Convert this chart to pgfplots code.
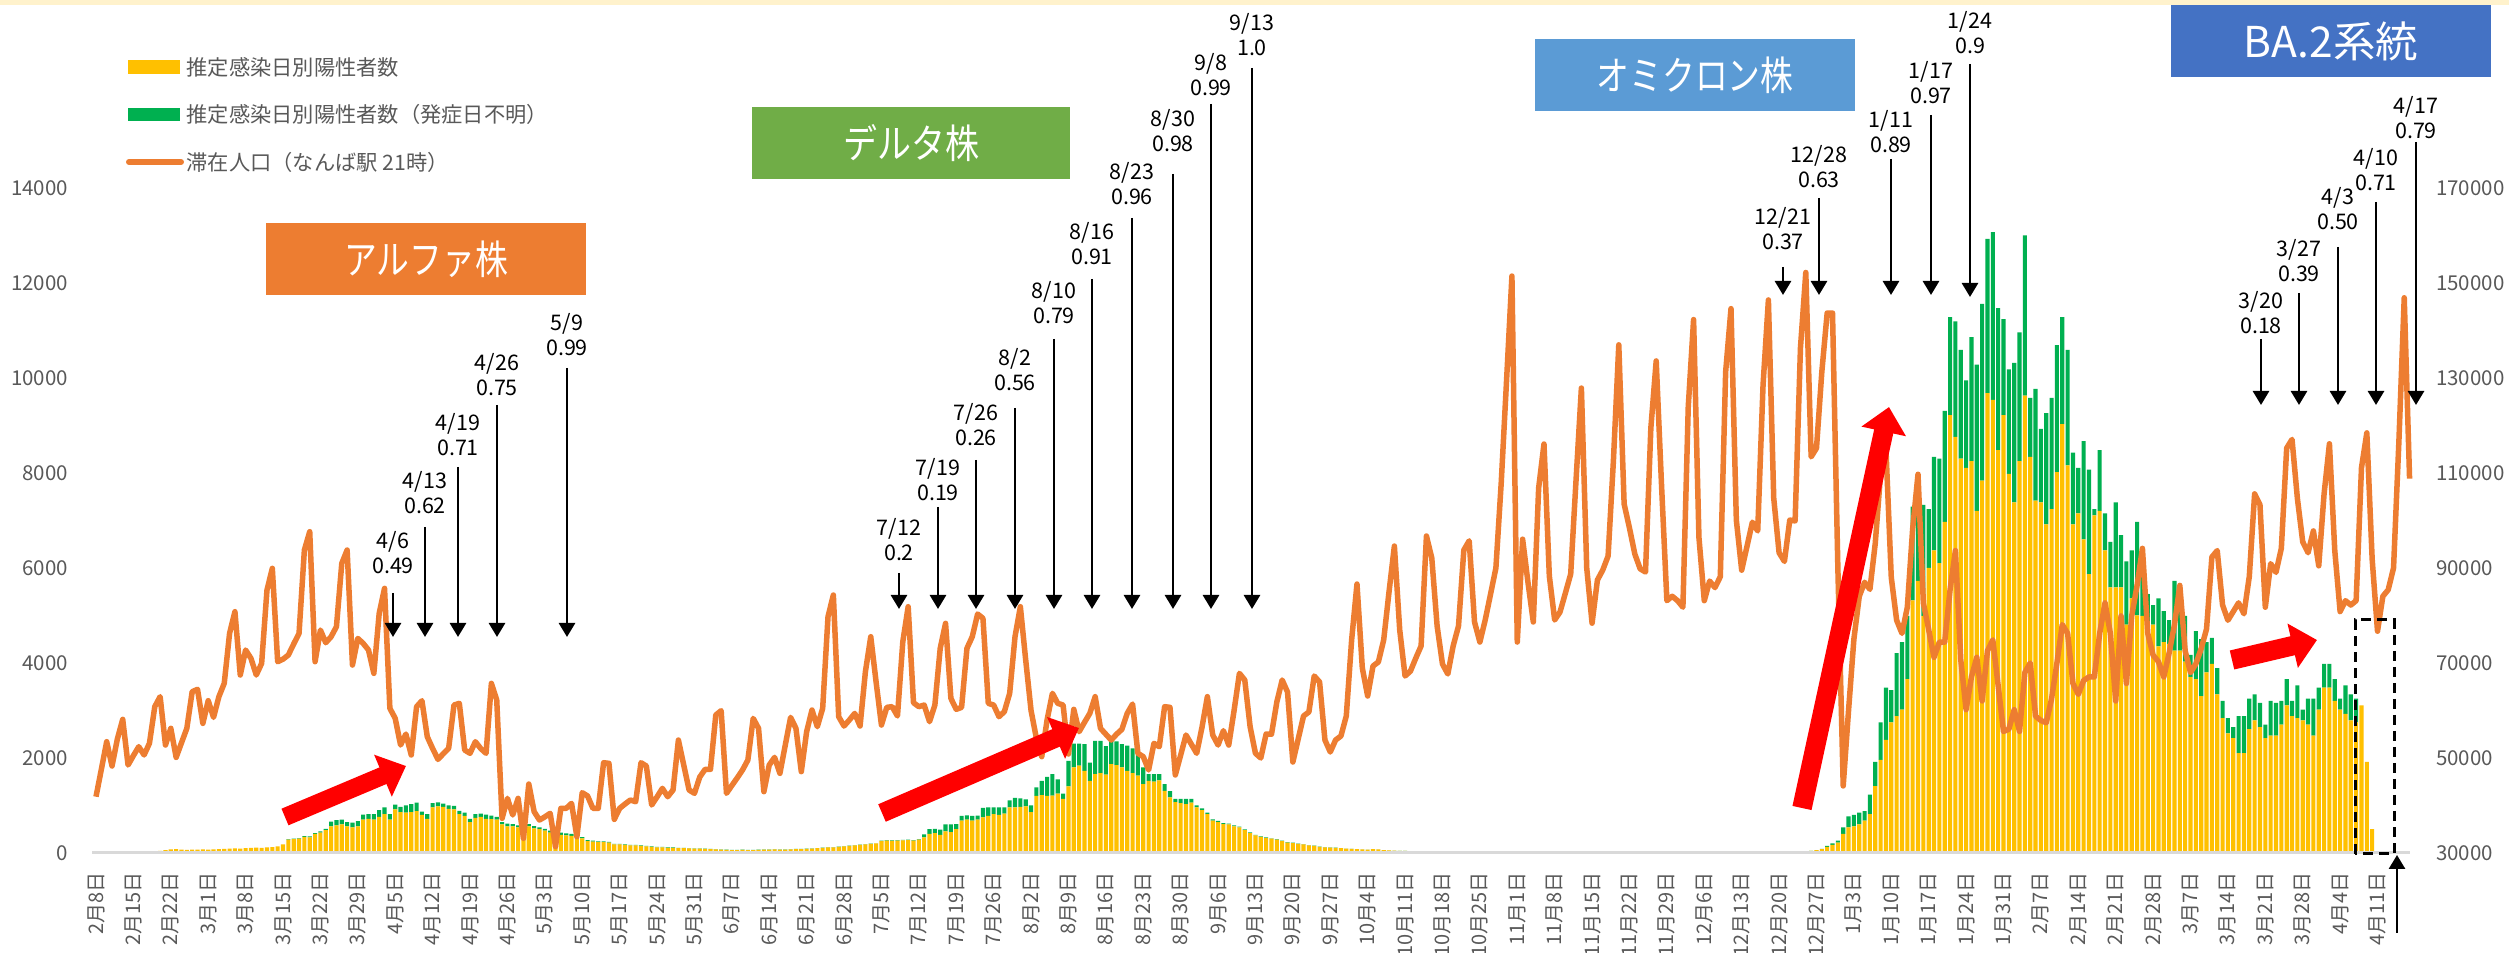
\documentclass[border=0pt]{standalone}
\usepackage{fontspec}
\setmainfont{Noto Sans CJK JP}
\usepackage{graphicx}
\usepackage{pgfplots}
\pgfplotsset{compat=1.18}
\usepackage{pgfplotstable}
\usetikzlibrary{arrows.meta}
\definecolor{barY}{HTML}{FFC000}
\definecolor{barG}{HTML}{00B050}
\definecolor{lineO}{HTML}{ED7D31}
\definecolor{txtG}{HTML}{595959}
\definecolor{boxO}{HTML}{ED7D31}
\definecolor{boxG}{HTML}{70AD47}
\definecolor{boxB}{HTML}{5B9BD5}
\definecolor{boxD}{HTML}{4472C4}
\definecolor{topY}{HTML}{FFF2CC}
\definecolor{baseG}{HTML}{D9D9D9}
\newcommand\annfont{\fontsize{8.6pt}{10pt}\selectfont}
\newcommand\legfont{\fontsize{8.5pt}{10pt}\selectfont}
\newcommand\boxfont{\fontsize{16pt}{18pt}\selectfont}
\newcommand\annot[6]{%
  \draw[line width=1.1pt,-{Triangle[length=5.6pt,width=6.4pt]}] (#1,953-#3) -- (#1,953-#4);
  \node[align=center,font=\annfont,inner sep=0pt] at (#1,953-#2) {#5\\#6};}

\pgfplotstableread[row sep=\\]{d y g\\
0 8 0\\1 8 0\\2 10 0\\3 10 0\\4 12 0\\5 12 0\\6 14 0\\7 15 0\\8 18 0\\9 20 0\\
10 25 0\\11 30 0\\12 45 0\\13 60 0\\14 75 0\\15 80 0\\16 70 0\\17 65 0\\18 70 0\\19 70 0\\
20 75 0\\21 70 0\\22 75 0\\23 80 0\\24 85 0\\25 90 0\\26 95 0\\27 90 0\\28 100 0\\29 110 0\\
30 115 0\\31 110 0\\32 120 0\\33 125 0\\34 140 0\\35 180 0\\36 280 10\\37 290 10\\38 300 15\\39 340 15\\
40 330 20\\41 400 20\\42 430 25\\43 480 30\\44 560 100\\45 580 110\\46 600 100\\47 560 90\\48 540 100\\49 560 110\\
50 700 110\\51 720 100\\52 700 120\\53 760 140\\54 820 140\\55 700 120\\56 920 100\\57 860 110\\58 850 150\\59 860 170\\
60 880 180\\61 800 70\\62 720 100\\63 960 90\\64 980 85\\65 970 70\\66 930 70\\67 920 70\\68 820 65\\69 780 70\\
70 650 70\\71 740 80\\72 760 70\\73 720 90\\74 715 70\\75 700 60\\76 600 50\\77 560 60\\78 560 50\\79 540 40\\
80 520 40\\81 560 50\\82 520 45\\83 500 40\\84 470 40\\85 430 40\\86 360 50\\87 380 50\\88 370 45\\89 360 40\\
90 300 30\\91 310 25\\92 250 20\\93 240 20\\94 230 15\\95 230 15\\96 220 12\\97 180 12\\98 180 12\\99 170 10\\
100 160 10\\101 160 10\\102 150 10\\103 140 10\\104 130 8\\105 120 8\\106 120 8\\107 110 8\\108 110 8\\109 100 6\\
110 100 6\\111 95 6\\112 90 6\\113 90 6\\114 85 5\\115 80 5\\116 75 5\\117 70 5\\118 65 5\\119 60 5\\
120 60 5\\121 65 5\\122 60 5\\123 60 5\\124 65 5\\125 70 5\\126 70 5\\127 75 5\\128 70 5\\129 70 5\\
130 75 5\\131 80 5\\132 80 5\\133 85 5\\134 90 5\\135 100 5\\136 110 5\\137 120 5\\138 120 5\\139 130 5\\
140 140 5\\141 150 5\\142 160 5\\143 170 5\\144 180 5\\145 190 5\\146 200 5\\147 250 10\\148 260 10\\149 255 10\\
150 260 10\\151 265 10\\152 270 10\\153 260 10\\154 280 10\\155 330 60\\156 400 100\\157 420 90\\158 380 110\\159 455 150\\
160 440 160\\161 500 110\\162 680 100\\163 700 90\\164 680 100\\165 700 85\\166 750 200\\167 780 180\\168 820 140\\169 800 160\\
170 830 130\\171 960 150\\172 960 200\\173 970 180\\174 980 150\\175 860 140\\176 1200 180\\177 1220 300\\178 1200 400\\179 1210 450\\
180 1250 300\\181 1140 110\\182 1400 540\\183 1800 500\\184 1840 460\\185 1730 560\\186 1520 380\\187 1660 700\\188 1680 680\\189 1650 600\\
190 1870 530\\191 1850 500\\192 1800 490\\193 1730 530\\194 1680 520\\195 1630 490\\196 1450 350\\197 1520 140\\198 1500 160\\199 1530 130\\
200 1310 140\\201 1170 130\\202 1070 70\\203 1050 90\\204 1030 110\\205 1060 80\\206 960 40\\207 900 40\\208 820 30\\209 680 30\\
210 650 25\\211 610 20\\212 600 20\\213 560 20\\214 540 15\\215 480 15\\216 420 15\\217 370 10\\218 340 10\\219 320 10\\
220 300 10\\221 280 10\\222 250 8\\223 220 8\\224 210 8\\225 190 6\\226 180 6\\227 160 6\\228 150 5\\229 130 5\\
230 120 5\\231 115 4\\232 110 4\\233 100 4\\234 90 4\\235 85 3\\236 80 3\\237 75 3\\238 70 3\\239 80 3\\
240 75 3\\241 60 2\\242 55 2\\243 50 2\\244 45 2\\245 45 2\\246 40 2\\247 40 2\\248 35 2\\249 35 2\\
250 30 2\\251 30 1\\252 28 1\\253 26 1\\254 25 1\\255 25 1\\256 22 1\\257 22 1\\258 20 1\\259 20 1\\
260 20 1\\261 18 1\\262 18 1\\263 16 1\\264 16 1\\265 15 1\\266 15 1\\267 20 1\\268 18 1\\269 16 1\\
270 15 1\\271 15 0\\272 14 0\\273 14 0\\274 13 0\\275 12 0\\276 12 0\\277 12 0\\278 12 0\\279 12 0\\
280 12 0\\281 12 0\\282 12 0\\283 12 0\\284 12 0\\285 12 0\\286 12 0\\287 12 0\\288 12 0\\289 12 0\\
290 12 0\\291 12 0\\292 12 0\\293 12 0\\294 12 0\\295 12 0\\296 12 0\\297 14 0\\298 14 0\\299 14 0\\
300 14 0\\301 15 0\\302 15 0\\303 15 0\\304 16 0\\305 16 0\\306 16 0\\307 17 0\\308 17 0\\309 18 0\\
310 18 0\\311 19 0\\312 20 0\\313 20 0\\314 22 0\\315 25 0\\316 30 0\\317 35 0\\318 38 0\\319 40 0\\
320 42 0\\321 45 2\\322 60 3\\323 80 5\\324 130 20\\325 170 30\\326 220 40\\327 400 140\\328 540 230\\329 560 240\\
330 600 250\\331 680 200\\332 820 410\\333 1410 510\\334 1960 790\\335 2380 1100\\336 2750 680\\337 2880 1330\\338 3020 1420\\339 3660 1330\\
340 5320 1970\\341 5730 2110\\342 4990 2340\\343 6000 1240\\344 6370 1970\\345 6100 2200\\346 6970 2340\\347 9220 2060\\348 8760 2430\\349 8300 2290\\
350 8110 1840\\351 8250 2610\\352 7200 3080\\353 7840 3720\\354 9680 3250\\355 9540 3530\\356 8480 2990\\357 9220 2020\\358 7980 2200\\359 7380 2940\\
360 8250 2710\\361 9630 3370\\362 8340 1240\\363 7420 2350\\364 7380 1550\\365 6920 2340\\366 7240 2340\\367 8020 2670\\368 9030 2250\\369 8160 2430\\
370 6920 1510\\371 7150 960\\372 6600 2070\\373 5870 2200\\374 7110 130\\375 7200 1280\\376 6370 780\\377 5590 960\\378 5590 1790\\379 5590 1100\\
380 4810 1330\\381 5360 1010\\382 5000 1970\\383 4990 1010\\384 4810 640\\385 4810 410\\386 4350 1010\\387 4440 650\\388 4400 500\\389 4260 1470\\
390 4260 1380\\391 4030 960\\392 3710 460\\393 3660 1010\\394 3300 1200\\395 3800 640\\396 3980 550\\397 3340 550\\398 2840 360\\399 2520 320\\
400 2420 230\\401 2100 780\\402 2100 780\\403 2610 640\\404 2790 550\\405 2650 510\\406 2420 280\\407 2470 730\\408 2470 690\\409 2700 500\\
410 3110 550\\411 2880 320\\412 2840 690\\413 2790 230\\414 2700 550\\415 2470 780\\416 3020 460\\417 3480 500\\418 3480 500\\419 3200 460\\
420 3020 230\\421 2930 600\\422 2790 550\\423 2750 500\\424 3110 0\\425 1920 0\\426 500 0\\
}\bars

\begin{document}
\begin{tikzpicture}[x=0.4pt,y=0.4pt]
\useasboundingbox (0,0) rectangle (2509,953);
\fill[white] (0,0) rectangle (2509,953);
\fill[topY] (0,948) rectangle (2509,953);
\begin{axis}[at={(36pt,40pt)}, anchor=south west,
  width=932pt, height=341.2pt, scale only axis,
  xmin=-1.123, xmax=434.96, ymin=0, ymax=17957.9,
  axis x line*=bottom, axis y line*=left,
  axis line style={draw=none}, major tick length=0pt,
  ybar stacked, bar width=1.65pt,
  scaled y ticks=false, scaled x ticks=false,
  ytick={0,2000,4000,6000,8000,10000,12000,14000},
  yticklabels={0,2000,4000,6000,8000,10000,12000,14000},
  yticklabel style={font=\fontsize{8.2pt}{9pt}\selectfont, text=txtG},
  yticklabel shift=5.3pt,
  xtick={0,7,...,427},
  xticklabels={2月8日,2月15日,2月22日,3月1日,3月8日,3月15日,3月22日,3月29日,4月5日,4月12日,4月19日,4月26日,5月3日,5月10日,5月17日,5月24日,5月31日,6月7日,6月14日,6月21日,6月28日,7月5日,7月12日,7月19日,7月26日,8月2日,8月9日,8月16日,8月23日,8月30日,9月6日,9月13日,9月20日,9月27日,10月4日,10月11日,10月18日,10月25日,11月1日,11月8日,11月15日,11月22日,11月29日,12月6日,12月13日,12月20日,12月27日,1月3日,1月10日,1月17日,1月24日,1月31日,2月7日,2月14日,2月21日,2月28日,3月7日,3月14日,3月21日,3月28日,4月4日,4月11日},
  xticklabel style={rotate=90, anchor=east, font=\fontsize{8pt}{8.5pt}\selectfont, text=txtG},
  xticklabel shift=4.2pt,
]
\addplot[fill=barY, draw=none] table[x=d,y=y]{\bars};
\addplot[fill=barG, draw=none] table[x=d,y=g]{\bars};
\end{axis}
\draw[baseG, line width=1.2pt] (92,100) -- (2410,100);
\begin{axis}[at={(36pt,40pt)}, anchor=south west,
  width=932pt, height=341.2pt, scale only axis,
  xmin=-1.123, xmax=434.96, ymin=30000, ymax=209579,
  hide x axis, axis y line*=right,
  axis line style={draw=none}, major tick length=0pt,
  scaled y ticks=false, scaled x ticks=false,
  ytick={30000,50000,70000,90000,110000,130000,150000,170000},
  yticklabels={30000,50000,70000,90000,110000,130000,150000,170000},
  yticklabel style={font=\fontsize{8.2pt}{9pt}\selectfont, text=txtG},
  yticklabel shift=2.9pt,
]
\addplot[color=lineO, line width=2.2pt, line join=round, mark=none] coordinates {
(0,41850)(1,47600)(2,53430)(3,48310)(4,54000)(5,58130)(6,48520)(7,50500)(8,52380)(9,50630)
(10,53080)(11,60800)(12,62910)(13,52730)(14,56240)(15,50130)(16,53200)(17,56240)(18,63960)(19,64450)
(20,57290)(21,62060)(22,58550)(23,62910)(24,65710)(25,76240)(26,80800)(27,67470)(28,72730)(29,70980)
(30,67470)(31,69920)(32,85360)(33,89920)(34,70270)(35,70800)(36,71680)(37,74000)(38,76240)(39,93780)
(40,97640)(41,70270)(42,76940)(43,74270)(44,75530)(45,77640)(46,90980)(47,93780)(48,69570)(49,75180)
(50,74130)(51,72730)(52,67820)(53,80450)(54,85710)(55,60450)(56,58340)(57,52730)(58,55040)(59,50630)
(60,60800)(61,62060)(62,54480)(63,52000)(64,49710)(65,50900)(66,52030)(67,61150)(68,61500)(69,51680)
(70,50980)(71,53430)(72,52000)(73,50980)(74,65710)(75,62210)(76,37290)(77,41500)(78,38000)(79,41500)
(80,33080)(81,44520)(82,38700)(83,36940)(84,37600)(85,38350)(86,31330)(87,39400)(88,39400)(89,40450)
(90,33430)(91,42700)(92,42000)(93,39400)(94,39400)(95,49010)(96,48870)(97,37080)(98,39400)(99,40300)
(100,41150)(101,40800)(102,49010)(103,48310)(104,40100)(105,41800)(106,43610)(107,41850)(108,43260)(109,53780)
(110,48500)(111,43260)(112,42560)(113,46000)(114,47610)(115,47610)(116,59050)(117,59960)(118,42560)(119,44200)
(120,45800)(121,47470)(122,49570)(123,58340)(124,56240)(125,42910)(126,48520)(127,50130)(128,46770)(129,52700)
(130,58550)(131,56240)(132,47120)(133,55540)(134,60100)(135,56590)(136,60450)(137,79750)(138,84310)(139,58690)
(140,56730)(141,58000)(142,59390)(143,56730)(144,68170)(145,75530)(146,66000)(147,56940)(148,60660)(149,60800)
(150,58840)(151,74480)(152,81850)(153,61640)(154,60800)(155,61150)(156,57640)(157,61150)(158,73080)(159,78340)
(160,62550)(161,60240)(162,60660)(163,73080)(164,75540)(165,80310)(166,79400)(167,61500)(168,61150)(169,58700)
(170,59750)(171,63610)(172,75540)(173,81850)(174,70630)(175,60000)(176,54140)(177,50280)(178,58000)(179,63610)
(180,61500)(181,61150)(182,50840)(183,60240)(184,55540)(185,57500)(186,59400)(187,62910)(188,56240)(189,55000)
(190,53780)(191,55000)(192,56030)(193,59400)(194,61360)(195,50980)(196,50280)(197,47470)(198,53080)(199,52380)
(200,60800)(201,60660)(202,46420)(203,50600)(204,54840)(205,52900)(206,50980)(207,56500)(208,62910)(209,54840)
(210,52730)(211,55750)(212,52730)(213,60000)(214,67820)(215,66410)(216,56590)(217,50980)(218,50000)(219,55050)
(220,55000)(221,61790)(222,66420)(223,63890)(224,49150)(225,54000)(226,58840)(227,59680)(228,67260)(229,66000)
(230,53790)(231,51260)(232,53790)(233,54630)(234,58840)(235,74840)(236,86620)(237,68940)(238,63050)(239,69360)
(240,70200)(241,74840)(242,85000)(243,94620)(244,76940)(245,67260)(246,68270)(247,71000)(248,73580)(249,96730)
(250,92100)(251,77780)(252,69780)(253,67680)(254,73580)(255,77780)(256,93780)(257,95720)(258,78630)(259,74410)
(260,79050)(261,84500)(262,89990)(263,108000)(264,129570)(265,151460)(266,74410)(267,96060)(268,87000)(269,78630)
(270,106830)(271,116100)(272,88310)(273,79050)(274,80730)(275,84700)(276,88730)(277,108510)(278,127880)(279,89990)
(280,78380)(281,87470)(282,89570)(283,92520)(284,112730)(285,136980)(286,103470)(287,98410)(288,92940)(289,89820)
(290,89150)(291,119460)(292,133590)(293,107430)(294,83120)(295,84040)(296,83120)(297,81740)(298,123950)(299,142300)
(300,96420)(301,83120)(302,87250)(303,85870)(304,88170)(305,131290)(306,144600)(307,100090)(308,89540)(309,94590)
(310,99640)(311,97800)(312,128540)(313,146430)(314,104680)(315,93210)(316,91380)(317,100090)(318,99910)(319,136340)
(320,152210)(321,113400)(322,115230)(323,131290)(324,143680)(325,143680)(326,90000)(327,44120)(328,60000)(329,75000)
(330,84000)(331,87000)(332,85500)(333,95190)(334,109920)(335,115000)(336,88000)(337,79000)(338,76230)(339,81740)
(340,98260)(341,109730)(342,82660)(343,77000)(344,71190)(345,74400)(346,74400)(347,85410)(348,93670)(349,70730)
(350,60170)(351,67060)(352,71190)(353,62000)(354,72560)(355,74860)(356,65220)(357,55590)(358,56050)(359,60170)
(360,55590)(361,68000)(362,70000)(363,58800)(364,57890)(365,57420)(366,62470)(367,70000)(368,78070)(369,76230)
(370,65680)(371,63390)(372,66330)(373,67060)(374,67060)(375,76230)(376,82660)(377,76230)(378,62000)(379,79910)
(380,65680)(381,79910)(382,86330)(383,94130)(384,76230)(385,71650)(386,70270)(387,67060)(388,72110)(389,78070)
(390,86330)(391,72560)(392,67970)(393,69810)(394,73020)(395,77150)(396,92300)(397,93670)(398,82200)(399,78990)
(400,80820)(401,82660)(402,80360)(403,88170)(404,105600)(405,103300)(406,81740)(407,90920)(408,89080)(409,94130)
(410,115240)(411,117070)(412,104680)(413,95510)(414,93210)(415,97800)(416,90460)(417,105600)(418,116150)(419,93670)
(420,80820)(421,83120)(422,82200)(423,83120)(424,111110)(425,118450)(426,91830)(427,76690)(428,84040)(429,85410)
(430,90000)(431,116610)(432,146890)(433,108810)
};
\end{axis}
% legend
\fill[barY] (128,879) rectangle (180,893);
\fill[barG] (128,832) rectangle (180,845);
\draw[lineO, line width=2.4pt, line cap=round] (129,791) -- (181,791);
\node[anchor=west, font=\legfont, text=txtG, inner sep=0pt] at (186,886) {推定感染日別陽性者数};
\node[anchor=west, font=\legfont, text=txtG, inner sep=0pt] at (186,839) {推定感染日別陽性者数（発症日不明）};
\node[anchor=west, font=\legfont, text=txtG, inner sep=0pt] at (186,791) {滞在人口（なんば駅 21時）};
% variant boxes
\fill[boxO] (266,658) rectangle (586,730);
\node[text=white, font=\boxfont, inner sep=0pt] at (426,694) {\scalebox{0.82}[1]{アルファ株}};
\fill[boxG] (752,774) rectangle (1070,846);
\node[text=white, font=\boxfont, inner sep=0pt] at (911,810) {\scalebox{0.85}[1]{デルタ株}};
\fill[boxB] (1535,842) rectangle (1855,914);
\node[text=white, font=\boxfont, inner sep=0pt] at (1695,878) {\scalebox{0.82}[1]{オミクロン株}};
\fill[boxD] (2171,876) rectangle (2491,948);
\node[text=white, font=\fontsize{17pt}{19pt}\selectfont, inner sep=0pt] at (2331,912) {BA.2系統};
% red arrows
\draw[red, line width=7.2pt, -{Triangle[length=10pt,width=17.6pt]}] (285,136) -- (406,187);
\draw[red, line width=7.6pt, -{Triangle[length=10pt,width=17.6pt]}] (882,140) -- (1079,225);
\draw[red, line width=7.8pt, -{Triangle[length=10pt,width=17.6pt]}] (1802,145) -- (1889,546);
\draw[red, line width=7.8pt, -{Triangle[length=10pt,width=17.6pt]}] (2232,293) -- (2317,313);
% annotations: x, label-mid y, shaft top y, tip y (image px from top)
\annot{393}{552.5}{593}{637}{4/6}{0.49}
\annot{425}{492.5}{527}{637}{4/13}{0.62}
\annot{458}{435}{467}{637}{4/19}{0.71}
\annot{497}{374.5}{405}{637}{4/26}{0.75}
\annot{567}{334.5}{368}{637}{5/9}{0.99}
\annot{899}{539.5}{573}{609}{7/12}{0.2}
\annot{938}{479.5}{507}{609}{7/19}{0.19}
\annot{976}{424.5}{460}{609}{7/26}{0.26}
\annot{1015}{369.5}{408}{609}{8/2}{0.56}
\annot{1054}{303}{339}{609}{8/10}{0.79}
\annot{1092}{244}{279}{609}{8/16}{0.91}
\annot{1132}{183.5}{218}{609}{8/23}{0.96}
\annot{1173}{131}{174}{609}{8/30}{0.98}
\annot{1211}{75}{104}{609}{9/8}{0.99}
\annot{1252}{34.5}{68}{609}{9/13}{1.0}
\annot{1783}{228.5}{267}{295}{12/21}{0.37}
\annot{1819}{167}{198}{295}{12/28}{0.63}
\annot{1891}{132}{159}{295}{1/11}{0.89}
\annot{1931}{83}{115}{295}{1/17}{0.97}
\annot{1970}{33}{64}{297}{1/24}{0.9}
\annot{2261}{312.5}{339}{405}{3/20}{0.18}
\annot{2299}{261}{293}{405}{3/27}{0.39}
\annot{2338}{209}{247}{405}{4/3}{0.50}
\annot{2376}{170}{202}{405}{4/10}{0.71}
\annot{2416}{117.5}{142}{405}{4/17}{0.79}
% dashed box and up arrow
\draw[line width=1.2pt, dash pattern=on 4pt off 2.4pt] (2355,99) rectangle (2394,333);
\draw[line width=1.1pt,-{Triangle[length=5.6pt,width=6.4pt]}] (2397,20) -- (2397,98);
\end{tikzpicture}
\end{document}
